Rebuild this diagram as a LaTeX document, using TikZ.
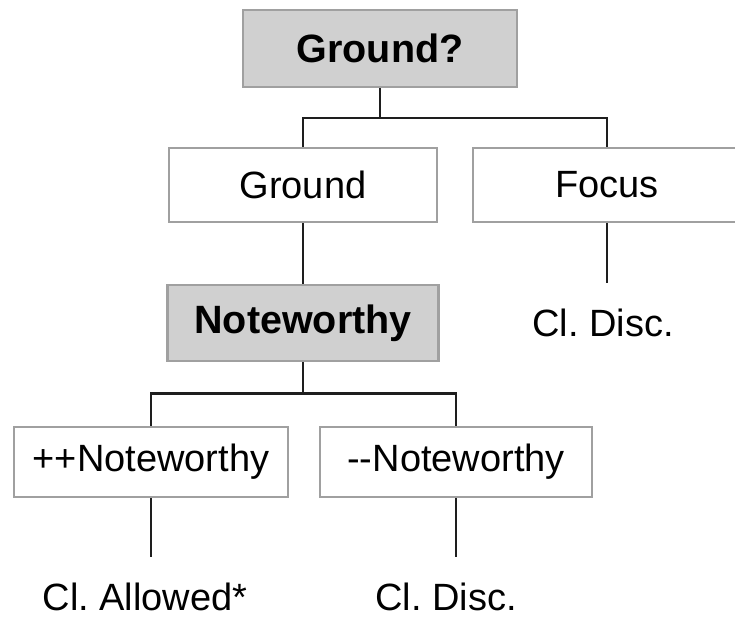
\documentclass[tikz,border=0pt]{standalone}
\usepackage{fontspec}
\setmainfont{Liberation Sans}
\frenchspacing
\definecolor{boxline}{HTML}{A0A0A0}
\definecolor{boxfill}{HTML}{D0D0D0}
\definecolor{conn}{HTML}{1E1E1E}
\begin{document}
\begin{tikzpicture}[x=1pt,y=-1pt,
  box/.style={draw=boxline,line width=2.8pt,fill=white,inner sep=0pt,
    font=\fontsize{38}{44}\selectfont},
  gbox/.style={box,fill=boxfill,font=\fontsize{39.5}{46}\selectfont\bfseries},
  leaf/.style={inner sep=0pt,font=\fontsize{38}{44}\selectfont},
  conn/.style={draw=conn,line width=2.7pt}]
\clip (0,0) rectangle (735,618);
\fill[white] (0,0) rectangle (735,618);
\node[gbox,minimum width=274pt,minimum height=77pt] (gq) at (380,48.5) {Ground?};
\node[box,minimum width=268pt,minimum height=74pt] (ground) at (303,185) {Ground};
\node[box,minimum width=268pt,minimum height=74pt] (focus) at (607,185) {Focus};
\node[gbox,minimum width=271pt,minimum height=76pt] (note) at (303,323) {Noteworthy};
\node[box,minimum width=274pt,minimum height=70pt] (pp) at (151,462) {++Noteworthy};
\node[box,minimum width=272pt,minimum height=70pt] (mm) at (456,462) {-{}-Noteworthy};
\node[leaf] (cd1) at (603,323) {Cl. Disc.};
\node[leaf] (ca) at (145,597) {Cl. Allowed*};
\node[leaf] (cd2) at (446,597) {Cl. Disc.};
\coordinate (e1) at (607,283);
\coordinate (e2) at (151,557);
\coordinate (e3) at (456,557);
\draw[conn] (gq.south) -- ++(0,29.5) -| (ground.north);
\draw[conn] (gq.south) -- ++(0,29.5) -| (focus.north);
\draw[conn] (ground.south) -- (note.north);
\draw[conn] (focus.south) -- (e1);
\draw[conn] (note.south) -- ++(0,31) -| (pp.north);
\draw[conn] (note.south) -- ++(0,31) -| (mm.north);
\draw[conn] (pp.south) -- (e2);
\draw[conn] (mm.south) -- (e3);
\end{tikzpicture}
\end{document}
